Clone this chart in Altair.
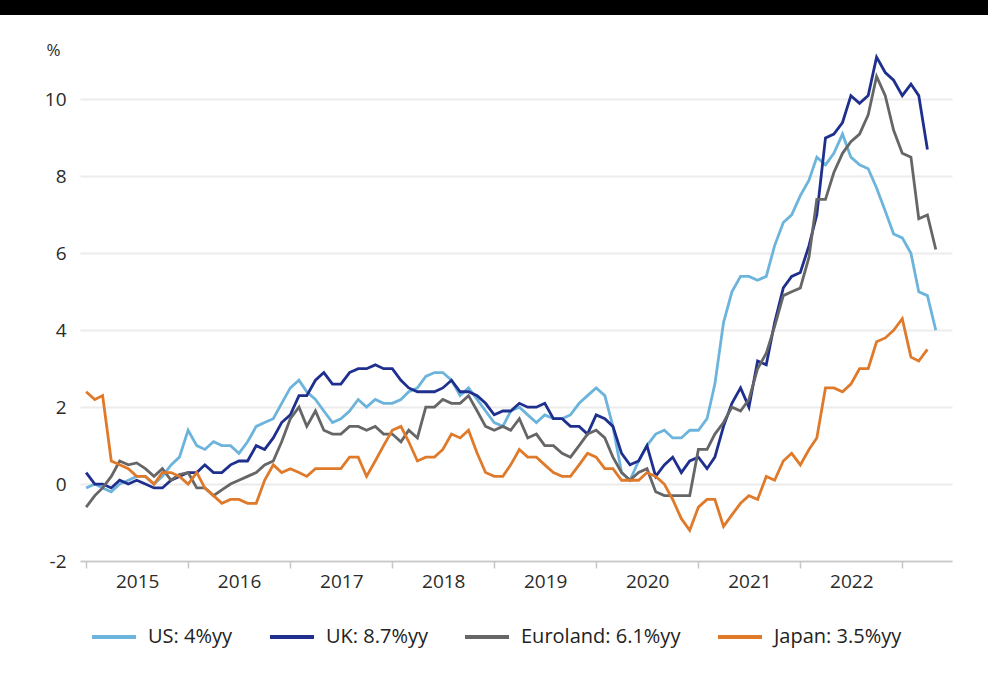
import altair as alt
import pandas as pd

# Monthly observations, Jan 2015 onwards (year-on-year CPI, %)
us = [
    -0.1, 0.0, -0.1, -0.2, 0.0, 0.1, 0.2, 0.2, 0.0, 0.2, 0.5, 0.7,
    1.4, 1.0, 0.9, 1.1, 1.0, 1.0, 0.8, 1.1, 1.5, 1.6, 1.7, 2.1,
    2.5, 2.7, 2.4, 2.2, 1.9, 1.6, 1.7, 1.9, 2.2, 2.0, 2.2, 2.1,
    2.1, 2.2, 2.4, 2.5, 2.8, 2.9, 2.9, 2.7, 2.3, 2.5, 2.2, 1.9,
    1.6, 1.5, 1.9, 2.0, 1.8, 1.6, 1.8, 1.7, 1.7, 1.8, 2.1, 2.3,
    2.5, 2.3, 1.5, 0.3, 0.1, 0.6, 1.0, 1.3, 1.4, 1.2, 1.2, 1.4,
    1.4, 1.7, 2.6, 4.2, 5.0, 5.4, 5.4, 5.3, 5.4, 6.2, 6.8, 7.0,
    7.5, 7.9, 8.5, 8.3, 8.6, 9.1, 8.5, 8.3, 8.2, 7.7, 7.1, 6.5,
    6.4, 6.0, 5.0, 4.9, 4.0,
]
uk = [
    0.3, 0.0, 0.0, -0.1, 0.1, 0.0, 0.1, 0.0, -0.1, -0.1, 0.1, 0.2,
    0.3, 0.3, 0.5, 0.3, 0.3, 0.5, 0.6, 0.6, 1.0, 0.9, 1.2, 1.6,
    1.8, 2.3, 2.3, 2.7, 2.9, 2.6, 2.6, 2.9, 3.0, 3.0, 3.1, 3.0,
    3.0, 2.7, 2.5, 2.4, 2.4, 2.4, 2.5, 2.7, 2.4, 2.4, 2.3, 2.1,
    1.8, 1.9, 1.9, 2.1, 2.0, 2.0, 2.1, 1.7, 1.7, 1.5, 1.5, 1.3,
    1.8, 1.7, 1.5, 0.8, 0.5, 0.6, 1.0, 0.2, 0.5, 0.7, 0.3, 0.6,
    0.7, 0.4, 0.7, 1.5, 2.1, 2.5, 2.0, 3.2, 3.1, 4.2, 5.1, 5.4,
    5.5, 6.2, 7.0, 9.0, 9.1, 9.4, 10.1, 9.9, 10.1, 11.1, 10.7, 10.5,
    10.1, 10.4, 10.1, 8.7,
]
euroland = [
    -0.6, -0.3, -0.1, 0.2, 0.6, 0.5, 0.55, 0.4, 0.2, 0.4, 0.1, 0.25,
    0.3, -0.1, -0.1, -0.3, -0.15, 0.0, 0.1, 0.2, 0.3, 0.5, 0.6, 1.1,
    1.7, 2.0, 1.5, 1.9, 1.4, 1.3, 1.3, 1.5, 1.5, 1.4, 1.5, 1.3,
    1.3, 1.1, 1.4, 1.2, 2.0, 2.0, 2.2, 2.1, 2.1, 2.3, 1.9, 1.5,
    1.4, 1.5, 1.4, 1.7, 1.2, 1.3, 1.0, 1.0, 0.8, 0.7, 1.0, 1.3,
    1.4, 1.2, 0.7, 0.3, 0.1, 0.3, 0.4, -0.2, -0.3, -0.3, -0.3, -0.3,
    0.9, 0.9, 1.3, 1.6, 2.0, 1.9, 2.2, 3.0, 3.4, 4.1, 4.9, 5.0,
    5.1, 5.9, 7.4, 7.4, 8.1, 8.6, 8.9, 9.1, 9.6, 10.6, 10.1, 9.2,
    8.6, 8.5, 6.9, 7.0, 6.1,
]
japan = [
    2.4, 2.2, 2.3, 0.6, 0.5, 0.4, 0.2, 0.2, 0.0, 0.3, 0.3, 0.2,
    0.0, 0.3, -0.1, -0.3, -0.5, -0.4, -0.4, -0.5, -0.5, 0.1, 0.5, 0.3,
    0.4, 0.3, 0.2, 0.4, 0.4, 0.4, 0.4, 0.7, 0.7, 0.2, 0.6, 1.0,
    1.4, 1.5, 1.1, 0.6, 0.7, 0.7, 0.9, 1.3, 1.2, 1.4, 0.8, 0.3,
    0.2, 0.2, 0.5, 0.9, 0.7, 0.7, 0.5, 0.3, 0.2, 0.2, 0.5, 0.8,
    0.7, 0.4, 0.4, 0.1, 0.1, 0.1, 0.3, 0.2, 0.0, -0.4, -0.9, -1.2,
    -0.6, -0.4, -0.4, -1.1, -0.8, -0.5, -0.3, -0.4, 0.2, 0.1, 0.6, 0.8,
    0.5, 0.9, 1.2, 2.5, 2.5, 2.4, 2.6, 3.0, 3.0, 3.7, 3.8, 4.0,
    4.3, 3.3, 3.2, 3.5,
]

series_names = ["US: 4%yy", "UK: 8.7%yy", "Euroland: 6.1%yy", "Japan: 3.5%yy"]
series_values = [us, uk, euroland, japan]
series_colors = ["#6cb4dc", "#1f2f8e", "#666666", "#e07a2b"]

year_ticks = [2015, 2016, 2017, 2018, 2019, 2020, 2021, 2022, 2023]
y_ticks = [-2, 0, 2, 4, 6, 8, 10]

months = pd.date_range("2015-01-01", periods=len(us), freq="MS").strftime("%Y-%m-%d").tolist()

rows = []
for name, vals in zip(series_names, series_values):
    for m, v in zip(months, vals):
        rows.append({"date": m, "value": v, "series": name})
df = pd.DataFrame(rows)

FONT = "Open Sans"

x_scale = alt.Scale(
    type="utc",
    domain=[alt.DateTime(year=2014, month=12, date=10, utc=True),
            alt.DateTime(year=2023, month=6, date=28, utc=True)],
)

lines = alt.Chart(df).mark_line(strokeWidth=2.8, clip=False).encode(
    x=alt.X(
        "date:T",
        scale=x_scale,
        axis=alt.Axis(
            values=[alt.DateTime(year=y, month=1, date=1, utc=True) for y in year_ticks],
            labelExpr="utcFormat(datum.value, '%Y') == '2023' ? '' : utcFormat(datum.value, '%Y')",
            labelOffset=51,
            labelFlush=False,
            labelOverlap=False,
            grid=False,
            domainColor="#c6c6c6",
            domainWidth=1.5,
            tickColor="#c6c6c6",
            tickWidth=1.5,
            tickSize=7,
            labelPadding=4,
            labelFontSize=19,
            labelColor="#2b2b2b",
            labelFont=FONT,
            title=None,
        ),
    ),
    y=alt.Y(
        "value:Q",
        scale=alt.Scale(domain=[-2, 11], nice=False, zero=False),
        axis=alt.Axis(
            values=y_ticks,
            labelExpr="toString(datum.value)",
            domain=False,
            ticks=False,
            grid=True,
            gridColor="#ececec",
            gridWidth=1.8,
            labelPadding=14,
            labelFontSize=19,
            labelColor="#2b2b2b",
            labelFont=FONT,
            title="%",
            titleAngle=0,
            titleX=-27,
            titleY=-11,
            titleAlign="center",
            titleBaseline="middle",
            titleFontSize=17,
            titleFontWeight="normal",
            titleColor="#2b2b2b",
            titleFont=FONT,
        ),
    ),
    color=alt.Color(
        "series:N",
        scale=alt.Scale(domain=series_names, range=series_colors),
        sort=series_names,
        legend=alt.Legend(
            title=None,
            orient="none",
            legendX=10,
            legendY=552,
            direction="horizontal",
            symbolType="stroke",
            symbolSize=1936,
            symbolStrokeWidth=4,
            labelOffset=10,
            columnPadding=29,
            labelFontSize=20,
            labelFont=FONT,
            labelColor="#222222",
            labelLimit=400,
        ),
    ),
)

top_bar = alt.Chart(pd.DataFrame({"k": [0]})).mark_rect(color="#000000", clip=False).encode(
    x=alt.value(-80), x2=alt.value(908), y=alt.value(-61), y2=alt.value(-46)
)

chart = alt.layer(lines, top_bar).properties(
    width=872,
    height=500,
    padding={"left": 80, "top": 61, "right": 36, "bottom": 112},
    autosize=alt.AutoSizeParams(type="none"),
    background="#ffffff",
).configure_view(stroke=None)

chart.save("out.html", embed_options={"renderer": "svg", "actions": False})
